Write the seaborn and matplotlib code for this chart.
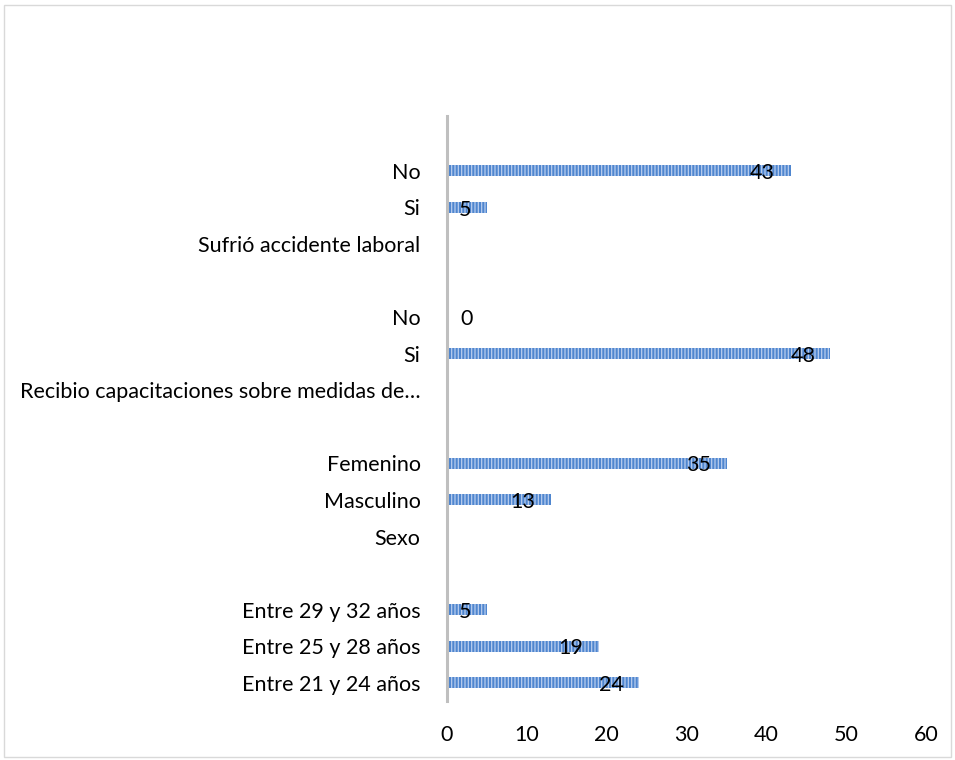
import numpy as np
import pandas as pd
import seaborn as sns
from matplotlib import pyplot as plt
from matplotlib.patches import Rectangle

# Rows from top to bottom (blank strings are empty spacer rows, headers have no bar)
labels = ["", "No", "Si", "Sufrió accidente laboral",
          "", "No", "Si", "Recibio capacitaciones sobre medidas de…",
          "", "Femenino", "Masculino", "Sexo",
          "", "Entre 29 y 32 años", "Entre 25 y 28 años", "Entre 21 y 24 años"]
values = [np.nan, 43, 5, np.nan,
          np.nan, 0, 48, np.nan,
          np.nan, 35, 13, np.nan,
          np.nan, 5, 19, 24]
xticks = [0, 10, 20, 30, 40, 50, 60]

# unique ids so repeated labels (No / Si) stay separate rows
slots = [f"r{i}" for i in range(len(labels))]
df = pd.DataFrame({"slot": slots, "value": values})

sns.set_style("white")
plt.rcParams["font.family"] = ["Lato", "DejaVu Sans"]
plt.rcParams["hatch.linewidth"] = 0.9
fs = 15.5

fig = plt.figure(figsize=(9.55, 7.6), dpi=100)
ax = fig.add_axes([0.468, 0.0776, 0.502, 0.7697])

sns.barplot(data=df, x="value", y="slot", order=slots, orient="h",
            color="#4F86CF", width=0.3, saturation=1, ax=ax, errorbar=None)

for bar in ax.patches:
    bar.set_hatch("|||||")
    bar.set_edgecolor("#B8CDEE")
    bar.set_linewidth(0)

# data labels near the end of each bar
for i, v in enumerate(values):
    if np.isnan(v):
        continue
    if v > 0:
        ax.annotate(f"{int(v)}", xy=(v, i), xytext=(-11, -1.5), textcoords="offset points",
                    ha="right", va="center", fontsize=fs, color="black")
    else:
        ax.annotate(f"{int(v)}", xy=(v, i), xytext=(10, -1.5), textcoords="offset points",
                    ha="left", va="center", fontsize=fs, color="black")

ax.set_xlim(0, 60)
ax.set_xticks(xticks)
ax.set_xticklabels([str(t) for t in xticks])
ax.set_yticks(range(len(labels)))
ax.set_yticklabels(labels)
ax.set_xlabel("")
ax.set_ylabel("")
ax.tick_params(axis="x", length=0, pad=17, labelsize=fs, labelcolor="black")
ax.tick_params(axis="y", length=0, pad=19, labelsize=fs, labelcolor="black")

for side in ["top", "right", "bottom"]:
    ax.spines[side].set_visible(False)
ax.spines["left"].set_color("#BFBFBF")
ax.spines["left"].set_linewidth(2.2)

# light frame around the whole chart
fig.patches.append(Rectangle((0.004, 0.004), 0.992, 0.99, transform=fig.transFigure,
                             fill=False, edgecolor="#D9D9D9", linewidth=1))

fig.savefig("out.png", dpi=100)
